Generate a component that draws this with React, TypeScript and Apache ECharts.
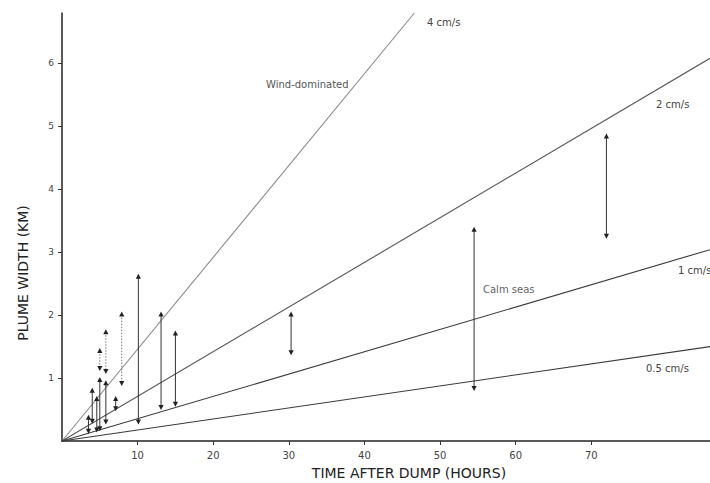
import React, { useEffect, useRef } from "react";
import * as echarts from "echarts";

// Axis ticks
const xTicks = [10, 20, 30, 40, 50, 60, 70];
const yTicks = [1, 2, 3, 4, 5, 6];

// Model lines (spreading speed) : end points
const speedLabels = ["4 cm/s", "2 cm/s", "1 cm/s", "0.5 cm/s"];
const lineEndT = [46.6, 85.7, 85.7, 85.7];
const lineEndW = [6.8, 6.08, 3.04, 1.5];
const lineColors = ["#8a8a8a", "#555555", "#3a3a3a", "#3a3a3a"];

// Observed ranges (solid)
const solidT = [3.5, 4.0, 4.6, 5.0, 5.8, 7.1, 10.1, 13.1, 15.0, 30.3, 54.5, 72.0];
const solidHi = [0.40, 0.83, 0.70, 1.00, 0.95, 0.70, 2.64, 2.04, 1.74, 2.04, 3.39, 4.87];
const solidLo = [0.13, 0.29, 0.15, 0.17, 0.28, 0.49, 0.28, 0.51, 0.56, 1.38, 0.81, 3.23];

// Observed ranges (dotted)
const dottedT = [5.0, 5.8, 7.9];
const dottedHi = [1.46, 1.76, 2.04];
const dottedLo = [1.13, 1.08, 0.89];

const FONT = "DejaVu Sans";

function makeRenderer(dotted: boolean) {
  return (params: any, api: any) => {
    const t = api.value(0);
    const hi = api.value(1);
    const lo = api.value(2);
    const top = api.coord([t, hi]);
    const bot = api.coord([t, lo]);
    const s = 2.6;
    const h = 5;
    return {
      type: "group",
      children: [
        {
          type: "line",
          shape: { x1: top[0], y1: top[1] + 2, x2: bot[0], y2: bot[1] - 2 },
          style: {
            stroke: dotted ? "#777" : "#333",
            lineWidth: 1,
            lineDash: dotted ? [1.5, 1.5] : null,
          },
        },
        {
          type: "polygon",
          shape: {
            points: [
              [top[0], top[1] - 1],
              [top[0] - s, top[1] + h - 1],
              [top[0] + s, top[1] + h - 1],
            ],
          },
          style: { fill: "#222" },
        },
        {
          type: "polygon",
          shape: {
            points: [
              [bot[0], bot[1] + 1],
              [bot[0] - s, bot[1] - h + 1],
              [bot[0] + s, bot[1] - h + 1],
            ],
          },
          style: { fill: "#222" },
        },
      ],
    };
  };
}

export default function App() {
  const ref = useRef<HTMLDivElement>(null);
  useEffect(() => {
    if (!ref.current) return;
    const chart = echarts.init(ref.current, null, { renderer: "svg" });
    const lineSeries = speedLabels.map((name, i) => ({
      type: "line",
      name,
      data: [
        [0, 0],
        [lineEndT[i], lineEndW[i]],
      ],
      symbol: "none",
      lineStyle: { color: lineColors[i], width: 1.1 },
      z: 2,
    }));
    const textStyle = (extra: any) => ({
      fontFamily: FONT,
      fontSize: 10,
      fill: "#444",
      ...extra,
    });
    chart.setOption({
      animation: false,
      backgroundColor: "#ffffff",
      grid: { left: 62, right: 0, top: 13, bottom: 42, containLabel: false },
      xAxis: {
        type: "value",
        min: 0,
        max: 85.7,
        splitLine: { show: false },
        axisLine: { show: true, lineStyle: { color: "#222", width: 1.5 } },
        axisTick: {
          show: true,
          customValues: xTicks,
          length: 4,
          lineStyle: { color: "#333" },
        },
        axisLabel: {
          customValues: xTicks,
          color: "#444",
          fontFamily: FONT,
          fontSize: 10,
          margin: 9,
        },
      },
      yAxis: {
        type: "value",
        min: 0,
        max: 6.8,
        splitLine: { show: false },
        axisLine: { show: true, lineStyle: { color: "#222", width: 1.5 } },
        axisTick: {
          show: true,
          customValues: yTicks,
          length: 4,
          lineStyle: { color: "#333" },
        },
        axisLabel: {
          customValues: yTicks,
          color: "#444",
          fontFamily: FONT,
          fontSize: 9,
          margin: 8,
        },
      },
      series: [
        ...lineSeries,
        {
          type: "custom",
          name: "solid",
          renderItem: makeRenderer(false),
          data: solidT.map((t, i) => [t, solidHi[i], solidLo[i]]),
          clip: false,
          z: 3,
        },
        {
          type: "custom",
          name: "dotted",
          renderItem: makeRenderer(true),
          data: dottedT.map((t, i) => [t, dottedHi[i], dottedLo[i]]),
          clip: false,
          z: 3,
        },
      ],
      graphic: [
        { type: "text", x: 427, y: 22, style: textStyle({ text: speedLabels[0], verticalAlign: "middle" }) },
        { type: "text", x: 266, y: 84, style: textStyle({ text: "Wind-dominated", verticalAlign: "middle", fill: "#555" }) },
        { type: "text", x: 656, y: 104, style: textStyle({ text: speedLabels[1], verticalAlign: "middle" }) },
        { type: "text", x: 678, y: 270, style: textStyle({ text: speedLabels[2], verticalAlign: "middle" }) },
        { type: "text", x: 483, y: 289, style: textStyle({ text: "Calm seas", verticalAlign: "middle", fill: "#666" }) },
        { type: "text", x: 646, y: 368, style: textStyle({ text: speedLabels[3], verticalAlign: "middle" }) },
        {
          type: "text",
          x: 409,
          y: 473,
          style: {
            text: "TIME AFTER DUMP (HOURS)",
            align: "center",
            verticalAlign: "middle",
            fontFamily: FONT,
            fontSize: 14,
            fill: "#222",
          },
        },
        {
          type: "text",
          x: 23,
          y: 273,
          rotation: Math.PI / 2,
          style: {
            text: "PLUME WIDTH (KM)",
            align: "center",
            verticalAlign: "middle",
            fontFamily: FONT,
            fontSize: 14,
            fill: "#222",
          },
        },
      ],
    });
    return () => chart.dispose();
  }, []);
  return (
    <div
      ref={ref}
      style={{ position: "fixed", left: 0, top: 0, width: 710, height: 483 }}
    />
  );
}
